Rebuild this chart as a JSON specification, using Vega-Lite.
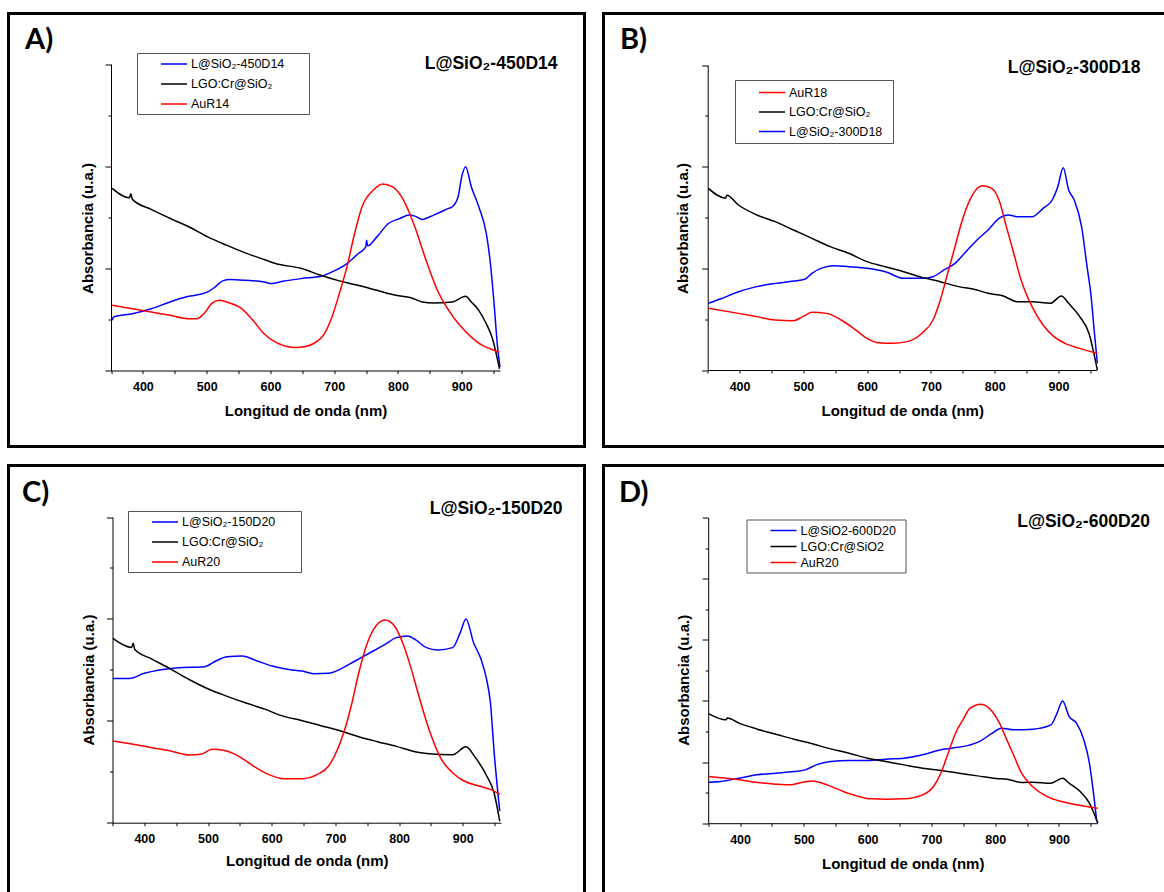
{
  "$schema": "https://vega.github.io/schema/vega-lite/v6.json",
  "autosize": {"type": "none"},
  "padding": {"left": 8.5, "top": 13.5, "right": 1155.5, "bottom": 878.5},
  "background": "white",
  "config": {
    "view": {"stroke": "black", "strokeWidth": 3},
    "axis": {"domainColor": "black", "tickColor": "black", "labelColor": "black", "titleColor": "black", "grid": false, "labelFont": "Liberation Sans", "titleFont": "Liberation Sans", "labelFontWeight": "bold", "titleFontWeight": "bold", "labelFontSize": 12.5, "titleFontSize": 15, "domainWidth": 1, "tickWidth": 1},
    "legend": {"symbolStrokeWidth": 1.5, "symbolSize": 169, "labelFont": "Liberation Sans", "labelFontSize": 12.5, "labelColor": "black", "strokeColor": "#555555", "fillColor": "white", "padding": 3.5, "symbolOffset": 26, "labelOffset": 9.5},
    "title": {"font": "Lato", "fontSize": 29, "fontWeight": "bold", "anchor": "start", "frame": "group", "baseline": "alphabetic", "color": "black"},
    "line": {"strokeWidth": 1.5, "interpolate": "monotone"}
  },
  "datasets": {
    "A": [
      {"s":"L@SiO₂-450D14","wl":351.8,"abs":0.491},{"s":"L@SiO₂-450D14","wl":354,"abs":0.523},{"s":"L@SiO₂-450D14","wl":383.6,"abs":0.556},{"s":"L@SiO₂-450D14","wl":413,"abs":0.605},{"s":"L@SiO₂-450D14","wl":442.7,"abs":0.671},{"s":"L@SiO₂-450D14","wl":472,"abs":0.726},{"s":"L@SiO₂-450D14","wl":490,"abs":0.746},{"s":"L@SiO₂-450D14","wl":501.7,"abs":0.769},{"s":"L@SiO₂-450D14","wl":513.5,"abs":0.818},{"s":"L@SiO₂-450D14","wl":525,"abs":0.877},{"s":"L@SiO₂-450D14","wl":537,"abs":0.89},{"s":"L@SiO₂-450D14","wl":560.7,"abs":0.883},{"s":"L@SiO₂-450D14","wl":590,"abs":0.867},{"s":"L@SiO₂-450D14","wl":602,"abs":0.851},{"s":"L@SiO₂-450D14","wl":619.8,"abs":0.873},{"s":"L@SiO₂-450D14","wl":649,"abs":0.9},{"s":"L@SiO₂-450D14","wl":678.8,"abs":0.922},{"s":"L@SiO₂-450D14","wl":696.5,"abs":0.965},{"s":"L@SiO₂-450D14","wl":720,"abs":1.047},{"s":"L@SiO₂-450D14","wl":737.8,"abs":1.145},{"s":"L@SiO₂-450D14","wl":749.6,"abs":1.21},{"s":"L@SiO₂-450D14","wl":750.8,"abs":1.276},{"s":"L@SiO₂-450D14","wl":752.5,"abs":1.22},{"s":"L@SiO₂-450D14","wl":767,"abs":1.308},{"s":"L@SiO₂-450D14","wl":785,"abs":1.439},{"s":"L@SiO₂-450D14","wl":802.8,"abs":1.488},{"s":"L@SiO₂-450D14","wl":817.5,"abs":1.521},{"s":"L@SiO₂-450D14","wl":826.4,"abs":1.511},{"s":"L@SiO₂-450D14","wl":838,"abs":1.479},{"s":"L@SiO₂-450D14","wl":850,"abs":1.505},{"s":"L@SiO₂-450D14","wl":861.8,"abs":1.537},{"s":"L@SiO₂-450D14","wl":879.5,"abs":1.587},{"s":"L@SiO₂-450D14","wl":885.4,"abs":1.603},{"s":"L@SiO₂-450D14","wl":894.3,"abs":1.701},{"s":"L@SiO₂-450D14","wl":900,"abs":1.897},{"s":"L@SiO₂-450D14","wl":906,"abs":1.995},{"s":"L@SiO₂-450D14","wl":915,"abs":1.799},{"s":"L@SiO₂-450D14","wl":926.7,"abs":1.603},{"s":"L@SiO₂-450D14","wl":938.5,"abs":1.341},{"s":"L@SiO₂-450D14","wl":944.4,"abs":1.079},{"s":"L@SiO₂-450D14","wl":950.3,"abs":0.687},{"s":"L@SiO₂-450D14","wl":956.2,"abs":0.229},{"s":"L@SiO₂-450D14","wl":960,"abs":0.033},
      {"s":"LGO:Cr@SiO₂","wl":351.8,"abs":1.783},{"s":"LGO:Cr@SiO₂","wl":379,"abs":1.69},{"s":"LGO:Cr@SiO₂","wl":381,"abs":1.73},{"s":"LGO:Cr@SiO₂","wl":383.6,"abs":1.675},{"s":"LGO:Cr@SiO₂","wl":413,"abs":1.577},{"s":"LGO:Cr@SiO₂","wl":448.6,"abs":1.472},{"s":"LGO:Cr@SiO₂","wl":472,"abs":1.407},{"s":"LGO:Cr@SiO₂","wl":501.7,"abs":1.308},{"s":"LGO:Cr@SiO₂","wl":531,"abs":1.227},{"s":"LGO:Cr@SiO₂","wl":560.7,"abs":1.151},{"s":"LGO:Cr@SiO₂","wl":590,"abs":1.086},{"s":"LGO:Cr@SiO₂","wl":608,"abs":1.047},{"s":"LGO:Cr@SiO₂","wl":649,"abs":0.998},{"s":"LGO:Cr@SiO₂","wl":678.8,"abs":0.932},{"s":"LGO:Cr@SiO₂","wl":708,"abs":0.877},{"s":"LGO:Cr@SiO₂","wl":743.7,"abs":0.824},{"s":"LGO:Cr@SiO₂","wl":767,"abs":0.785},{"s":"LGO:Cr@SiO₂","wl":797,"abs":0.736},{"s":"LGO:Cr@SiO₂","wl":820.5,"abs":0.713},{"s":"LGO:Cr@SiO₂","wl":838,"abs":0.671},{"s":"LGO:Cr@SiO₂","wl":856,"abs":0.661},{"s":"LGO:Cr@SiO₂","wl":885.4,"abs":0.671},{"s":"LGO:Cr@SiO₂","wl":906,"abs":0.726},{"s":"LGO:Cr@SiO₂","wl":915,"abs":0.671},{"s":"LGO:Cr@SiO₂","wl":926.7,"abs":0.589},{"s":"LGO:Cr@SiO₂","wl":938.5,"abs":0.458},{"s":"LGO:Cr@SiO₂","wl":947.4,"abs":0.327},{"s":"LGO:Cr@SiO₂","wl":959.2,"abs":0.016},
      {"s":"AuR14","wl":351.8,"abs":0.638},{"s":"AuR14","wl":383.6,"abs":0.605},{"s":"AuR14","wl":413,"abs":0.572},{"s":"AuR14","wl":442.7,"abs":0.54},{"s":"AuR14","wl":472,"abs":0.507},{"s":"AuR14","wl":484,"abs":0.507},{"s":"AuR14","wl":495.8,"abs":0.556},{"s":"AuR14","wl":507.6,"abs":0.654},{"s":"AuR14","wl":519.4,"abs":0.687},{"s":"AuR14","wl":531,"abs":0.671},{"s":"AuR14","wl":554.8,"abs":0.605},{"s":"AuR14","wl":572.5,"abs":0.491},{"s":"AuR14","wl":590,"abs":0.36},{"s":"AuR14","wl":608,"abs":0.278},{"s":"AuR14","wl":625.7,"abs":0.235},{"s":"AuR14","wl":640,"abs":0.225},{"s":"AuR14","wl":655,"abs":0.235},{"s":"AuR14","wl":667,"abs":0.262},{"s":"AuR14","wl":684.7,"abs":0.36},{"s":"AuR14","wl":696.5,"abs":0.523},{"s":"AuR14","wl":708,"abs":0.752},{"s":"AuR14","wl":720,"abs":1.014},{"s":"AuR14","wl":732,"abs":1.341},{"s":"AuR14","wl":743.7,"abs":1.603},{"s":"AuR14","wl":761.5,"abs":1.766},{"s":"AuR14","wl":776,"abs":1.825},{"s":"AuR14","wl":791,"abs":1.799},{"s":"AuR14","wl":808.7,"abs":1.668},{"s":"AuR14","wl":826.4,"abs":1.407},{"s":"AuR14","wl":844,"abs":1.079},{"s":"AuR14","wl":861.8,"abs":0.785},{"s":"AuR14","wl":879.5,"abs":0.589},{"s":"AuR14","wl":897,"abs":0.442},{"s":"AuR14","wl":915,"abs":0.327},{"s":"AuR14","wl":932.6,"abs":0.245},{"s":"AuR14","wl":944.4,"abs":0.213},{"s":"AuR14","wl":959.2,"abs":0.18}
    ],
    "B": [
      {"s":"L@SiO₂-300D18","wl":351,"abs":0.656},{"s":"L@SiO₂-300D18","wl":369.6,"abs":0.698},{"s":"L@SiO₂-300D18","wl":398.3,"abs":0.77},{"s":"L@SiO₂-300D18","wl":427,"abs":0.82},{"s":"L@SiO₂-300D18","wl":456,"abs":0.852},{"s":"L@SiO₂-300D18","wl":484.6,"abs":0.875},{"s":"L@SiO₂-300D18","wl":502,"abs":0.892},{"s":"L@SiO₂-300D18","wl":513.4,"abs":0.951},{"s":"L@SiO₂-300D18","wl":530.7,"abs":1.007},{"s":"L@SiO₂-300D18","wl":548,"abs":1.026},{"s":"L@SiO₂-300D18","wl":571,"abs":1.016},{"s":"L@SiO₂-300D18","wl":599.7,"abs":1.0},{"s":"L@SiO₂-300D18","wl":628.5,"abs":0.967},{"s":"L@SiO₂-300D18","wl":657.2,"abs":0.902},{"s":"L@SiO₂-300D18","wl":686,"abs":0.902},{"s":"L@SiO₂-300D18","wl":703.3,"abs":0.918},{"s":"L@SiO₂-300D18","wl":720.5,"abs":0.984},{"s":"L@SiO₂-300D18","wl":737.8,"abs":1.049},{"s":"L@SiO₂-300D18","wl":755,"abs":1.164},{"s":"L@SiO₂-300D18","wl":772.3,"abs":1.279},{"s":"L@SiO₂-300D18","wl":789.6,"abs":1.377},{"s":"L@SiO₂-300D18","wl":806.8,"abs":1.492},{"s":"L@SiO₂-300D18","wl":821.2,"abs":1.525},{"s":"L@SiO₂-300D18","wl":835.6,"abs":1.508},{"s":"L@SiO₂-300D18","wl":858.6,"abs":1.508},{"s":"L@SiO₂-300D18","wl":875.9,"abs":1.59},{"s":"L@SiO₂-300D18","wl":890.3,"abs":1.672},{"s":"L@SiO₂-300D18","wl":899,"abs":1.803},{"s":"L@SiO₂-300D18","wl":907.5,"abs":1.99},{"s":"L@SiO₂-300D18","wl":916,"abs":1.77},{"s":"L@SiO₂-300D18","wl":924.8,"abs":1.672},{"s":"L@SiO₂-300D18","wl":936.3,"abs":1.41},{"s":"L@SiO₂-300D18","wl":944.9,"abs":1.016},{"s":"L@SiO₂-300D18","wl":950.7,"abs":0.754},{"s":"L@SiO₂-300D18","wl":956.5,"abs":0.361},{"s":"L@SiO₂-300D18","wl":961,"abs":0.066},
      {"s":"LGO:Cr@SiO₂","wl":351,"abs":1.787},{"s":"LGO:Cr@SiO₂","wl":378,"abs":1.69},{"s":"LGO:Cr@SiO₂","wl":380,"abs":1.72},{"s":"LGO:Cr@SiO₂","wl":398.3,"abs":1.623},{"s":"LGO:Cr@SiO₂","wl":427,"abs":1.525},{"s":"LGO:Cr@SiO₂","wl":456,"abs":1.459},{"s":"LGO:Cr@SiO₂","wl":484.6,"abs":1.377},{"s":"LGO:Cr@SiO₂","wl":513.4,"abs":1.295},{"s":"LGO:Cr@SiO₂","wl":542,"abs":1.213},{"s":"LGO:Cr@SiO₂","wl":571,"abs":1.148},{"s":"LGO:Cr@SiO₂","wl":599.7,"abs":1.066},{"s":"LGO:Cr@SiO₂","wl":628.5,"abs":1.016},{"s":"LGO:Cr@SiO₂","wl":657.2,"abs":0.967},{"s":"LGO:Cr@SiO₂","wl":686,"abs":0.911},{"s":"LGO:Cr@SiO₂","wl":714.8,"abs":0.869},{"s":"LGO:Cr@SiO₂","wl":743.6,"abs":0.82},{"s":"LGO:Cr@SiO₂","wl":772.3,"abs":0.787},{"s":"LGO:Cr@SiO₂","wl":789.6,"abs":0.754},{"s":"LGO:Cr@SiO₂","wl":812.6,"abs":0.731},{"s":"LGO:Cr@SiO₂","wl":835.6,"abs":0.672},{"s":"LGO:Cr@SiO₂","wl":858.6,"abs":0.672},{"s":"LGO:Cr@SiO₂","wl":887.4,"abs":0.656},{"s":"LGO:Cr@SiO₂","wl":904.6,"abs":0.728},{"s":"LGO:Cr@SiO₂","wl":916,"abs":0.656},{"s":"LGO:Cr@SiO₂","wl":933.4,"abs":0.525},{"s":"LGO:Cr@SiO₂","wl":947.8,"abs":0.361},{"s":"LGO:Cr@SiO₂","wl":961,"abs":0.0},
      {"s":"AuR18","wl":351,"abs":0.607},{"s":"AuR18","wl":398.3,"abs":0.557},{"s":"AuR18","wl":427,"abs":0.525},{"s":"AuR18","wl":456,"abs":0.492},{"s":"AuR18","wl":484.6,"abs":0.485},{"s":"AuR18","wl":499,"abs":0.525},{"s":"AuR18","wl":513.4,"abs":0.567},{"s":"AuR18","wl":536.4,"abs":0.557},{"s":"AuR18","wl":559.4,"abs":0.492},{"s":"AuR18","wl":582.4,"abs":0.393},{"s":"AuR18","wl":599.7,"abs":0.311},{"s":"AuR18","wl":617,"abs":0.269},{"s":"AuR18","wl":640,"abs":0.262},{"s":"AuR18","wl":663,"abs":0.279},{"s":"AuR18","wl":686,"abs":0.361},{"s":"AuR18","wl":703.3,"abs":0.492},{"s":"AuR18","wl":714.8,"abs":0.689},{"s":"AuR18","wl":726.3,"abs":0.951},{"s":"AuR18","wl":737.8,"abs":1.213},{"s":"AuR18","wl":749.3,"abs":1.475},{"s":"AuR18","wl":766.6,"abs":1.738},{"s":"AuR18","wl":781,"abs":1.813},{"s":"AuR18","wl":795.4,"abs":1.787},{"s":"AuR18","wl":806.8,"abs":1.672},{"s":"AuR18","wl":818.3,"abs":1.41},{"s":"AuR18","wl":829.9,"abs":1.148},{"s":"AuR18","wl":841.4,"abs":0.885},{"s":"AuR18","wl":858.6,"abs":0.623},{"s":"AuR18","wl":875.9,"abs":0.443},{"s":"AuR18","wl":893,"abs":0.328},{"s":"AuR18","wl":910.4,"abs":0.262},{"s":"AuR18","wl":933.4,"abs":0.213},{"s":"AuR18","wl":961,"abs":0.164}
    ],
    "C": [
      {"s":"L@SiO₂-150D20","wl":350.6,"abs":1.416},{"s":"L@SiO₂-150D20","wl":376.6,"abs":1.416},{"s":"L@SiO₂-150D20","wl":400,"abs":1.466},{"s":"L@SiO₂-150D20","wl":423.8,"abs":1.498},{"s":"L@SiO₂-150D20","wl":453.3,"abs":1.521},{"s":"L@SiO₂-150D20","wl":494.6,"abs":1.531},{"s":"L@SiO₂-150D20","wl":512.3,"abs":1.587},{"s":"L@SiO₂-150D20","wl":530,"abs":1.629},{"s":"L@SiO₂-150D20","wl":553.7,"abs":1.636},{"s":"L@SiO₂-150D20","wl":577.3,"abs":1.587},{"s":"L@SiO₂-150D20","wl":600.9,"abs":1.537},{"s":"L@SiO₂-150D20","wl":624.5,"abs":1.505},{"s":"L@SiO₂-150D20","wl":648,"abs":1.488},{"s":"L@SiO₂-150D20","wl":665.8,"abs":1.462},{"s":"L@SiO₂-150D20","wl":689.4,"abs":1.466},{"s":"L@SiO₂-150D20","wl":707,"abs":1.505},{"s":"L@SiO₂-150D20","wl":730.8,"abs":1.587},{"s":"L@SiO₂-150D20","wl":754.4,"abs":1.668},{"s":"L@SiO₂-150D20","wl":778,"abs":1.75},{"s":"L@SiO₂-150D20","wl":795.7,"abs":1.816},{"s":"L@SiO₂-150D20","wl":813.4,"abs":1.832},{"s":"L@SiO₂-150D20","wl":825,"abs":1.799},{"s":"L@SiO₂-150D20","wl":843,"abs":1.718},{"s":"L@SiO₂-150D20","wl":860.6,"abs":1.695},{"s":"L@SiO₂-150D20","wl":884,"abs":1.718},{"s":"L@SiO₂-150D20","wl":896,"abs":1.865},{"s":"L@SiO₂-150D20","wl":905,"abs":2.0},{"s":"L@SiO₂-150D20","wl":917,"abs":1.766},{"s":"L@SiO₂-150D20","wl":928.7,"abs":1.603},{"s":"L@SiO₂-150D20","wl":937.4,"abs":1.406},{"s":"L@SiO₂-150D20","wl":943.4,"abs":1.177},{"s":"L@SiO₂-150D20","wl":949.3,"abs":0.687},{"s":"L@SiO₂-150D20","wl":958,"abs":0.115},
      {"s":"LGO:Cr@SiO₂","wl":350.6,"abs":1.809},{"s":"LGO:Cr@SiO₂","wl":380,"abs":1.72},{"s":"LGO:Cr@SiO₂","wl":382.5,"abs":1.76},{"s":"LGO:Cr@SiO₂","wl":385,"abs":1.7},{"s":"LGO:Cr@SiO₂","wl":412,"abs":1.606},{"s":"LGO:Cr@SiO₂","wl":441.5,"abs":1.508},{"s":"LGO:Cr@SiO₂","wl":471,"abs":1.403},{"s":"LGO:Cr@SiO₂","wl":500.5,"abs":1.312},{"s":"LGO:Cr@SiO₂","wl":530,"abs":1.24},{"s":"LGO:Cr@SiO₂","wl":559.6,"abs":1.174},{"s":"LGO:Cr@SiO₂","wl":589,"abs":1.115},{"s":"LGO:Cr@SiO₂","wl":612.7,"abs":1.056},{"s":"LGO:Cr@SiO₂","wl":648,"abs":1.001},{"s":"LGO:Cr@SiO₂","wl":677.6,"abs":0.952},{"s":"LGO:Cr@SiO₂","wl":707,"abs":0.903},{"s":"LGO:Cr@SiO₂","wl":736.7,"abs":0.844},{"s":"LGO:Cr@SiO₂","wl":766,"abs":0.795},{"s":"LGO:Cr@SiO₂","wl":795.7,"abs":0.749},{"s":"LGO:Cr@SiO₂","wl":825,"abs":0.697},{"s":"LGO:Cr@SiO₂","wl":843,"abs":0.68},{"s":"LGO:Cr@SiO₂","wl":884,"abs":0.667},{"s":"LGO:Cr@SiO₂","wl":905,"abs":0.746},{"s":"LGO:Cr@SiO₂","wl":919.6,"abs":0.641},{"s":"LGO:Cr@SiO₂","wl":937.4,"abs":0.461},{"s":"LGO:Cr@SiO₂","wl":949,"abs":0.297},{"s":"LGO:Cr@SiO₂","wl":958,"abs":0.016},
      {"s":"AuR20","wl":350.6,"abs":0.801},{"s":"AuR20","wl":382.5,"abs":0.769},{"s":"AuR20","wl":412,"abs":0.736},{"s":"AuR20","wl":441.5,"abs":0.703},{"s":"AuR20","wl":471,"abs":0.664},{"s":"AuR20","wl":488.7,"abs":0.671},{"s":"AuR20","wl":506.4,"abs":0.72},{"s":"AuR20","wl":524,"abs":0.71},{"s":"AuR20","wl":547.8,"abs":0.654},{"s":"AuR20","wl":571.4,"abs":0.556},{"s":"AuR20","wl":595,"abs":0.474},{"s":"AuR20","wl":618.6,"abs":0.432},{"s":"AuR20","wl":648,"abs":0.432},{"s":"AuR20","wl":671.7,"abs":0.474},{"s":"AuR20","wl":689.4,"abs":0.556},{"s":"AuR20","wl":701,"abs":0.687},{"s":"AuR20","wl":713,"abs":0.883},{"s":"AuR20","wl":724.8,"abs":1.145},{"s":"AuR20","wl":736.7,"abs":1.472},{"s":"AuR20","wl":748.5,"abs":1.734},{"s":"AuR20","wl":760,"abs":1.897},{"s":"AuR20","wl":778,"abs":1.989},{"s":"AuR20","wl":792.7,"abs":1.93},{"s":"AuR20","wl":807.5,"abs":1.734},{"s":"AuR20","wl":819.3,"abs":1.505},{"s":"AuR20","wl":831,"abs":1.243},{"s":"AuR20","wl":848.8,"abs":0.883},{"s":"AuR20","wl":866.5,"abs":0.621},{"s":"AuR20","wl":884,"abs":0.491},{"s":"AuR20","wl":902,"abs":0.409},{"s":"AuR20","wl":925.6,"abs":0.36},{"s":"AuR20","wl":943.4,"abs":0.327},{"s":"AuR20","wl":958,"abs":0.278}
    ],
    "D": [
      {"s":"L@SiO2-600D20","wl":351,"abs":0.671},{"s":"L@SiO2-600D20","wl":369.6,"abs":0.682},{"s":"L@SiO2-600D20","wl":398.3,"abs":0.736},{"s":"L@SiO2-600D20","wl":427,"abs":0.791},{"s":"L@SiO2-600D20","wl":456,"abs":0.818},{"s":"L@SiO2-600D20","wl":484.6,"abs":0.845},{"s":"L@SiO2-600D20","wl":502,"abs":0.872},{"s":"L@SiO2-600D20","wl":519.2,"abs":0.954},{"s":"L@SiO2-600D20","wl":542.2,"abs":1.009},{"s":"L@SiO2-600D20","wl":571,"abs":1.025},{"s":"L@SiO2-600D20","wl":599.7,"abs":1.025},{"s":"L@SiO2-600D20","wl":628.5,"abs":1.047},{"s":"L@SiO2-600D20","wl":657.2,"abs":1.063},{"s":"L@SiO2-600D20","wl":686,"abs":1.118},{"s":"L@SiO2-600D20","wl":714.8,"abs":1.2},{"s":"L@SiO2-600D20","wl":732,"abs":1.227},{"s":"L@SiO2-600D20","wl":755,"abs":1.265},{"s":"L@SiO2-600D20","wl":778,"abs":1.352},{"s":"L@SiO2-600D20","wl":795.4,"abs":1.472},{"s":"L@SiO2-600D20","wl":809.7,"abs":1.554},{"s":"L@SiO2-600D20","wl":829.9,"abs":1.527},{"s":"L@SiO2-600D20","wl":858.6,"abs":1.538},{"s":"L@SiO2-600D20","wl":887.4,"abs":1.609},{"s":"L@SiO2-600D20","wl":896,"abs":1.772},{"s":"L@SiO2-600D20","wl":905.8,"abs":2.0},{"s":"L@SiO2-600D20","wl":916,"abs":1.745},{"s":"L@SiO2-600D20","wl":927.5,"abs":1.636},{"s":"L@SiO2-600D20","wl":939,"abs":1.363},{"s":"L@SiO2-600D20","wl":947.8,"abs":0.981},{"s":"L@SiO2-600D20","wl":953.6,"abs":0.545},{"s":"L@SiO2-600D20","wl":959.3,"abs":0.027},
      {"s":"LGO:Cr@SiO2","wl":351,"abs":1.788},{"s":"LGO:Cr@SiO2","wl":378,"abs":1.69},{"s":"LGO:Cr@SiO2","wl":380,"abs":1.72},{"s":"LGO:Cr@SiO2","wl":398.3,"abs":1.636},{"s":"LGO:Cr@SiO2","wl":427,"abs":1.538},{"s":"LGO:Cr@SiO2","wl":456,"abs":1.456},{"s":"LGO:Cr@SiO2","wl":484.6,"abs":1.374},{"s":"LGO:Cr@SiO2","wl":513.4,"abs":1.298},{"s":"LGO:Cr@SiO2","wl":542.2,"abs":1.216},{"s":"LGO:Cr@SiO2","wl":571,"abs":1.145},{"s":"LGO:Cr@SiO2","wl":599.7,"abs":1.063},{"s":"LGO:Cr@SiO2","wl":628.5,"abs":1.009},{"s":"LGO:Cr@SiO2","wl":657.2,"abs":0.954},{"s":"LGO:Cr@SiO2","wl":686,"abs":0.9},{"s":"LGO:Cr@SiO2","wl":714.8,"abs":0.862},{"s":"LGO:Cr@SiO2","wl":743.6,"abs":0.818},{"s":"LGO:Cr@SiO2","wl":772.3,"abs":0.774},{"s":"LGO:Cr@SiO2","wl":801,"abs":0.731},{"s":"LGO:Cr@SiO2","wl":818.4,"abs":0.72},{"s":"LGO:Cr@SiO2","wl":841.4,"abs":0.665},{"s":"LGO:Cr@SiO2","wl":858.6,"abs":0.671},{"s":"LGO:Cr@SiO2","wl":887.4,"abs":0.654},{"s":"LGO:Cr@SiO2","wl":905.8,"abs":0.736},{"s":"LGO:Cr@SiO2","wl":916,"abs":0.654},{"s":"LGO:Cr@SiO2","wl":933.4,"abs":0.518},{"s":"LGO:Cr@SiO2","wl":947.8,"abs":0.327},{"s":"LGO:Cr@SiO2","wl":961,"abs":0.0},
      {"s":"AuR20","wl":351,"abs":0.763},{"s":"AuR20","wl":398.3,"abs":0.709},{"s":"AuR20","wl":427,"abs":0.665},{"s":"AuR20","wl":456,"abs":0.638},{"s":"AuR20","wl":479,"abs":0.627},{"s":"AuR20","wl":496,"abs":0.665},{"s":"AuR20","wl":513.4,"abs":0.692},{"s":"AuR20","wl":536.4,"abs":0.627},{"s":"AuR20","wl":559.4,"abs":0.529},{"s":"AuR20","wl":582.4,"abs":0.447},{"s":"AuR20","wl":605.5,"abs":0.398},{"s":"AuR20","wl":628.5,"abs":0.393},{"s":"AuR20","wl":657.2,"abs":0.398},{"s":"AuR20","wl":686,"abs":0.463},{"s":"AuR20","wl":703.3,"abs":0.6},{"s":"AuR20","wl":714.8,"abs":0.818},{"s":"AuR20","wl":726.3,"abs":1.145},{"s":"AuR20","wl":737.8,"abs":1.472},{"s":"AuR20","wl":749.3,"abs":1.69},{"s":"AuR20","wl":760.8,"abs":1.881},{"s":"AuR20","wl":778,"abs":1.947},{"s":"AuR20","wl":795.4,"abs":1.827},{"s":"AuR20","wl":806.8,"abs":1.636},{"s":"AuR20","wl":818.3,"abs":1.363},{"s":"AuR20","wl":829.9,"abs":1.09},{"s":"AuR20","wl":841.4,"abs":0.818},{"s":"AuR20","wl":858.6,"abs":0.6},{"s":"AuR20","wl":881.6,"abs":0.436},{"s":"AuR20","wl":904.6,"abs":0.354},{"s":"AuR20","wl":927.6,"abs":0.3},{"s":"AuR20","wl":961,"abs":0.245}
    ]
  },
  "columns": 2,
  "spacing": 15,
  "resolve": {"scale": {"x": "independent", "y": "independent", "color": "independent"}, "legend": {"color": "independent"}, "axis": {"x": "independent", "y": "independent"}},
  "concat": [
    {
      "width": 576, "height": 433,
      "title": {"text": "A)", "dx": 16.5, "dy": 45},
      "layer": [
        {
          "data": {"name": "A"},
          "mark": {"type": "line"},
          "encoding": {
            "x": {"field": "wl", "type": "quantitative", "scale": {"domain": [350, 960], "range": [102.5, 491.5], "nice": false, "zero": false},
              "axis": {"offset": -76, "values": [350,400,450,500,550,600,650,700,750,800,850,900,950], "labelExpr": "datum.value % 100 === 0 ? datum.label : ''", "tickSize": 3, "labelPadding": 7, "title": "Longitud de onda (nm)", "titleY": 45, "titleBaseline": "alphabetic"}},
            "y": {"field": "abs", "type": "quantitative", "scale": {"domain": [0, 3], "range": [357, 50.5], "nice": false, "zero": false},
              "axis": {"offset": -102.5, "values": [0,0.5,1,1.5,2,2.5,3], "labels": false, "tickSize": {"condition": {"test": "datum.value % 1 === 0", "value": 6}, "value": 3}, "title": "Absorbancia (u.a.)", "titleX": -19, "titleY": 214.5, "titleBaseline": "alphabetic", "titleAngle": -90, "titleAlign": "center"}},
            "color": {"field": "s", "type": "nominal", "scale": {"domain": ["L@SiO₂-450D14", "LGO:Cr@SiO₂", "AuR14"], "range": ["#0000ff", "#000000", "#ff0000"]},
              "legend": {"title": null, "orient": "none", "legendX": 128.5, "legendY": 39.5, "rowPadding": 6, "symbolType": "M-2,0H2M19.7,0H19.7"}}
          }
        },
        {
          "data": {"values": [{}]},
          "mark": {"type": "rule", "opacity": 0},
          "encoding": {"y": {"datum": 0, "type": "quantitative", "axis": {"orient": "right", "domain": false, "ticks": false, "labels": false, "title": "L@SiO₂-450D14", "titleAngle": 0, "titleAlign": "right", "titleBaseline": "alphabetic", "titleX": -27.5, "titleY": 54.5, "titleFontSize": 17.5, "titleFont": "Liberation Sans", "titleFontWeight": "bold"}}}
        }
      ],
      "resolve": {"axis": {"y": "independent"}}
    },
    {
      "width": 576, "height": 433,
      "title": {"text": "B)", "dx": 16.5, "dy": 45.5},
      "layer": [
        {
          "data": {"name": "B"},
          "mark": {"type": "line"},
          "encoding": {
            "x": {"field": "wl", "type": "quantitative", "scale": {"domain": [350, 960], "range": [104.2, 493.2], "nice": false, "zero": false},
              "axis": {"offset": -76.5, "values": [350,400,450,500,550,600,650,700,750,800,850,900,950], "labelExpr": "datum.value % 100 === 0 ? datum.label : ''", "tickSize": 3, "labelPadding": 7, "title": "Longitud de onda (nm)", "titleY": 45, "titleBaseline": "alphabetic"}},
            "y": {"field": "abs", "type": "quantitative", "scale": {"domain": [0, 3], "range": [356.5, 51.5], "nice": false, "zero": false},
              "axis": {"offset": -104.2, "values": [0,0.5,1,1.5,2,2.5,3], "labels": false, "tickSize": {"condition": {"test": "datum.value % 1 === 0", "value": 6}, "value": 3}, "title": "Absorbancia (u.a.)", "titleX": -20, "titleY": 214.5, "titleBaseline": "alphabetic", "titleAngle": -90, "titleAlign": "center"}},
            "color": {"field": "s", "type": "nominal", "scale": {"domain": ["AuR18", "LGO:Cr@SiO₂", "L@SiO₂-300D18"], "range": ["#ff0000", "#000000", "#0000ff"]},
              "legend": {"title": null, "orient": "none", "legendX": 131.5, "legendY": 66.5, "rowPadding": 5.5, "padding": 5, "symbolOffset": 24.5, "symbolType": "M-2,0H2M17.3,0H17.3"}}
          }
        },
        {
          "data": {"values": [{}]},
          "mark": {"type": "rule", "opacity": 0},
          "encoding": {"y": {"datum": 0, "type": "quantitative", "axis": {"orient": "right", "domain": false, "ticks": false, "labels": false, "title": "L@SiO₂-300D18", "titleAngle": 0, "titleAlign": "right", "titleBaseline": "alphabetic", "titleX": -39.5, "titleY": 58.5, "titleFontSize": 17.5, "titleFont": "Liberation Sans", "titleFontWeight": "bold"}}}
        }
      ],
      "resolve": {"axis": {"y": "independent"}}
    },
    {
      "width": 576, "height": 460,
      "title": {"text": "C)", "dx": 13.5, "dy": 46},
      "layer": [
        {
          "data": {"name": "C"},
          "mark": {"type": "line"},
          "encoding": {
            "x": {"field": "wl", "type": "quantitative", "scale": {"domain": [350, 960], "range": [104, 492.5], "nice": false, "zero": false},
              "axis": {"offset": -102.8, "values": [350,400,450,500,550,600,650,700,750,800,850,900,950], "labelExpr": "datum.value % 100 === 0 ? datum.label : ''", "tickSize": 3, "labelPadding": 7, "title": "Longitud de onda (nm)", "titleY": 43, "titleBaseline": "alphabetic"}},
            "y": {"field": "abs", "type": "quantitative", "scale": {"domain": [0, 3], "range": [357.2, 51.5], "nice": false, "zero": false},
              "axis": {"offset": -104, "values": [0,0.5,1,1.5,2,2.5,3], "labels": false, "tickSize": {"condition": {"test": "datum.value % 1 === 0", "value": 6}, "value": 3}, "title": "Absorbancia (u.a.)", "titleX": -19, "titleY": 214, "titleBaseline": "alphabetic", "titleAngle": -90, "titleAlign": "center"}},
            "color": {"field": "s", "type": "nominal", "scale": {"domain": ["L@SiO₂-150D20", "LGO:Cr@SiO₂", "AuR20"], "range": ["#0000ff", "#000000", "#ff0000"]},
              "legend": {"title": null, "orient": "none", "legendX": 119.5, "legendY": 45.5, "rowPadding": 6, "symbolType": "M-2,0H2M19.8,0H19.8"}}
          }
        },
        {
          "data": {"values": [{}]},
          "mark": {"type": "rule", "opacity": 0},
          "encoding": {"y": {"datum": 0, "type": "quantitative", "axis": {"orient": "right", "domain": false, "ticks": false, "labels": false, "title": "L@SiO₂-150D20", "titleAngle": 0, "titleAlign": "right", "titleBaseline": "alphabetic", "titleX": -22.5, "titleY": 47.5, "titleFontSize": 17.5, "titleFont": "Liberation Sans", "titleFontWeight": "bold"}}}
        }
      ],
      "resolve": {"axis": {"y": "independent"}}
    },
    {
      "width": 576, "height": 460,
      "title": {"text": "D)", "dx": 15.5, "dy": 46.5},
      "layer": [
        {
          "data": {"name": "D"},
          "mark": {"type": "line"},
          "encoding": {
            "x": {"field": "wl", "type": "quantitative", "scale": {"domain": [350, 960], "range": [104.7, 493.7], "nice": false, "zero": false},
              "axis": {"offset": -102.3, "values": [350,400,450,500,550,600,650,700,750,800,850,900,950], "labelExpr": "datum.value % 100 === 0 ? datum.label : ''", "tickSize": 3, "labelPadding": 7, "title": "Longitud de onda (nm)", "titleY": 45, "titleBaseline": "alphabetic"}},
            "y": {"field": "abs", "type": "quantitative", "scale": {"domain": [0, 5], "range": [357.7, 52], "nice": false, "zero": false},
              "axis": {"offset": -104.7, "values": [0,0.5,1,1.5,2,2.5,3,3.5,4,4.5,5], "labels": false, "tickSize": {"condition": {"test": "datum.value % 1 === 0", "value": 6}, "value": 3}, "title": "Absorbancia (u.a.)", "titleX": -20, "titleY": 214.3, "titleBaseline": "alphabetic", "titleAngle": -90, "titleAlign": "center"}},
            "color": {"field": "s", "type": "nominal", "scale": {"domain": ["L@SiO2-600D20", "LGO:Cr@SiO2", "AuR20"], "range": ["#0000ff", "#000000", "#ff0000"]},
              "legend": {"title": null, "orient": "none", "legendX": 143, "legendY": 54, "rowPadding": 2, "symbolType": "M-2,0H2M17.7,0H17.7"}}
          }
        },
        {
          "data": {"values": [{}]},
          "mark": {"type": "rule", "opacity": 0},
          "encoding": {"y": {"datum": 0, "type": "quantitative", "axis": {"orient": "right", "domain": false, "ticks": false, "labels": false, "title": "L@SiO₂-600D20", "titleAngle": 0, "titleAlign": "right", "titleBaseline": "alphabetic", "titleX": -30, "titleY": 61, "titleFontSize": 17.5, "titleFont": "Liberation Sans", "titleFontWeight": "bold"}}}
        }
      ],
      "resolve": {"axis": {"y": "independent"}}
    }
  ]
}
